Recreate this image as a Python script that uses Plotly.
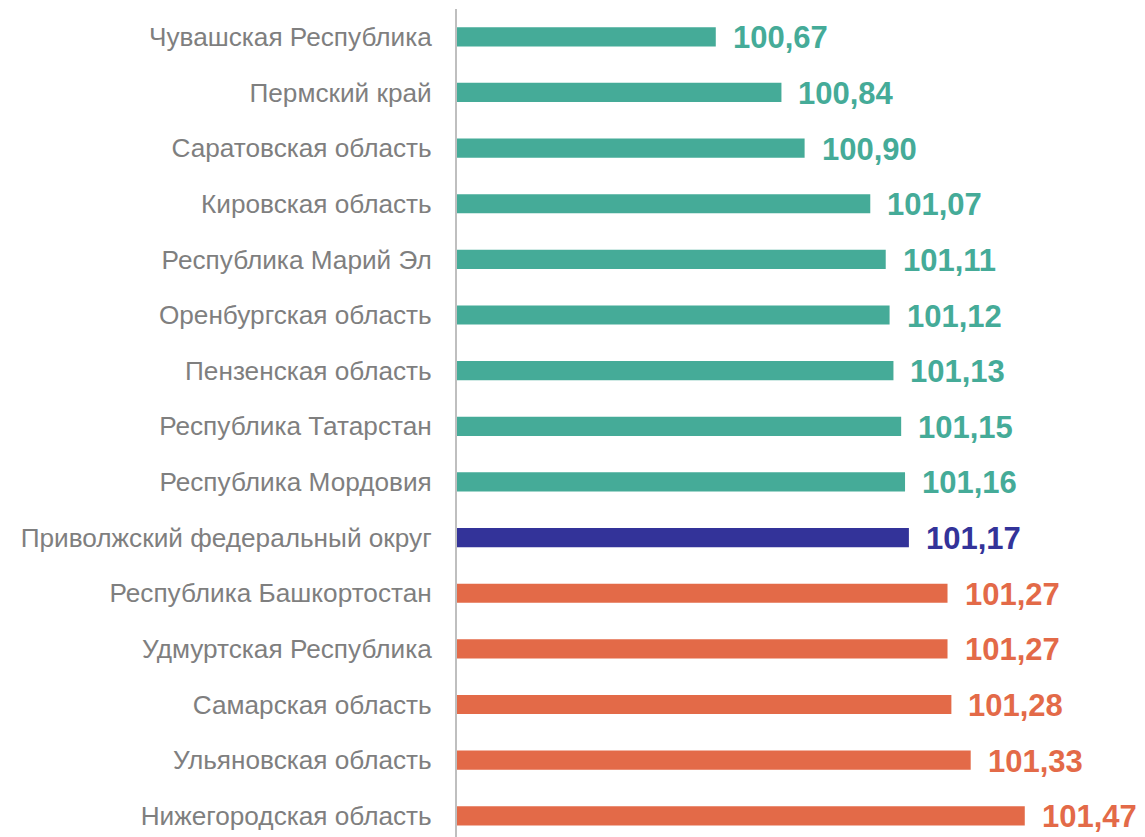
import plotly.graph_objects as go

regions = [
    "Чувашская Республика",
    "Пермский край",
    "Саратовская область",
    "Кировская область",
    "Республика Марий Эл",
    "Оренбургская область",
    "Пензенская область",
    "Республика Татарстан",
    "Республика Мордовия",
    "Приволжский федеральный округ",
    "Республика Башкортостан",
    "Удмуртская Республика",
    "Самарская область",
    "Ульяновская область",
    "Нижегородская область",
]
values = [100.67, 100.84, 100.90, 101.07, 101.11, 101.12, 101.13, 101.15, 101.16,
          101.17, 101.27, 101.27, 101.28, 101.33, 101.47]
groups = ["low"] * 9 + ["district"] + ["high"] * 5

palette = {"low": "#45AB98", "district": "#333399", "high": "#E36A48"}
colors = [palette[g] for g in groups]
texts = [f"{v:.2f}".replace(".", ",") for v in values]

base = 100.0

fig = go.Figure()
fig.add_trace(go.Bar(
    y=regions,
    x=[v - base for v in values],
    base=base,
    orientation="h",
    marker=dict(color=colors, line=dict(width=0)),
    width=0.345,
    hoverinfo="skip",
))

for r, v, t, c in zip(regions, values, texts, colors):
    fig.add_annotation(
        x=v, y=r, text=f"<b>{t}</b>", showarrow=False,
        xanchor="left", yanchor="middle", xshift=15, yshift=-1,
        font=dict(family="Liberation Sans, Arial, sans-serif", size=31, color=c),
    )

fig.update_layout(
    width=1145, height=837,
    margin=dict(l=449, r=0, t=1, b=0),
    plot_bgcolor="white", paper_bgcolor="white",
    showlegend=False,
    font=dict(family="Liberation Sans, Arial, sans-serif"),
)
fig.update_xaxes(range=[base, 101.802], showgrid=False, zeroline=False,
                 showticklabels=False, showline=False, fixedrange=True)
fig.update_yaxes(
    categoryorder="array", categoryarray=regions,
    range=[14.525, -0.5],
    showgrid=False, zeroline=False, automargin=False,
    showline=True, linecolor="#BFBFBF", linewidth=2,
    ticks="", ticklabelstandoff=18,
    tickfont=dict(family="Liberation Sans, Arial, sans-serif", size=26.2, color="#7F7F7F"),
)

fig.write_html("out.html")
